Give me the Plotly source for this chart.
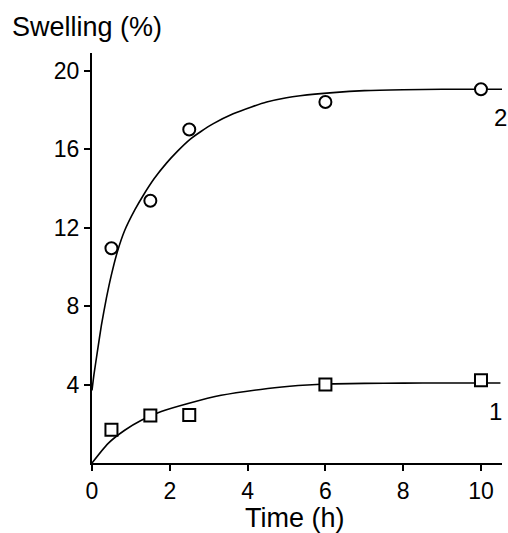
import plotly.graph_objects as go

# measured data
time_pts = [0.5, 1.5, 2.5, 6, 10]
swell_2 = [10.95, 13.37, 17.0, 18.4, 19.05]
swell_1 = [1.70, 2.42, 2.45, 4.0, 4.22]

# fitted curves
curve2_x = [0, 0.05, 0.14, 0.24, 0.37, 0.50, 0.65, 0.84, 1.1, 1.32, 1.6, 1.92, 2.2, 2.52, 2.8, 3.12,
            3.63, 4.1, 4.49, 5.0, 5.35, 6.2, 7.0, 8.0, 9.0, 10.54]
curve2_y = [3.7, 4.5, 5.7, 7.0, 8.4, 9.6, 10.75, 11.85, 12.9, 13.65, 14.5, 15.3, 15.9, 16.5, 16.9, 17.3,
            17.8, 18.15, 18.4, 18.62, 18.72, 18.88, 18.98, 19.03, 19.05, 19.05]
curve1_x = [0, 0.41, 0.84, 1.27, 1.78, 2.47, 3.32, 4.52, 5.3, 6.0, 7.0, 8.0, 9.0, 10.5]
curve1_y = [0, 0.99, 1.67, 2.18, 2.62, 3.03, 3.45, 3.8, 3.95, 4.03, 4.06, 4.07, 4.08, 4.08]

x_ticks = [0, 2, 4, 6, 8, 10]
y_ticks = [4, 8, 12, 16, 20]

FONT = "Liberation Sans, Arial, sans-serif"

fig = go.Figure()
fig.add_trace(go.Scatter(x=curve2_x, y=curve2_y, mode="lines",
                         line=dict(color="black", width=1.6, shape="spline", smoothing=0.6), hoverinfo="skip"))
fig.add_trace(go.Scatter(x=curve1_x, y=curve1_y, mode="lines",
                         line=dict(color="black", width=1.6, shape="spline", smoothing=0.6), hoverinfo="skip"))
fig.add_trace(go.Scatter(x=time_pts, y=swell_2, mode="markers",
                         marker=dict(symbol="circle", size=12, color="white", line=dict(color="black", width=2))))
fig.add_trace(go.Scatter(x=time_pts, y=swell_1, mode="markers",
                         marker=dict(symbol="square", size=12, color="white", line=dict(color="black", width=2))))

fig.add_annotation(x=10.5, y=17.6, text="2", showarrow=False,
                   font=dict(size=24, color="black", family=FONT), xanchor="center", yanchor="middle")
fig.add_annotation(x=10.38, y=2.65, text="1", showarrow=False,
                   font=dict(size=24, color="black", family=FONT), xanchor="center", yanchor="middle")
fig.add_annotation(xref="paper", yref="paper", x=-0.2, y=1.064, text="Swelling (%)", showarrow=False,
                   xanchor="left", yanchor="middle", font=dict(size=27, color="black", family=FONT))
fig.add_annotation(xref="x", yref="paper", x=5.21, y=-0.134, text="Time (h)", showarrow=False,
                   xanchor="center", yanchor="middle", font=dict(size=27, color="black", family=FONT))

fig.update_layout(
    width=508, height=533,
    margin=dict(l=92, r=6, t=53, b=70),
    plot_bgcolor="white", paper_bgcolor="white",
    showlegend=False,
    font=dict(family=FONT, color="black", size=23),
    xaxis=dict(range=[0, 10.54], tickvals=x_ticks, showline=True, linecolor="black", linewidth=2,
               ticks="outside", ticklen=6, tickwidth=2, tickcolor="black", showgrid=False, zeroline=False,
               automargin=False),
    yaxis=dict(range=[0, 20.9], tickvals=y_ticks, showline=True, linecolor="black", linewidth=2,
               ticks="outside", ticklen=6, tickwidth=2, tickcolor="black", showgrid=False, zeroline=False,
               automargin=False),
)

fig.write_html(
    "out.html",
    config={"displayModeBar": False},
    post_script="document.body.style.margin='0';document.body.style.overflow='hidden';",
)
